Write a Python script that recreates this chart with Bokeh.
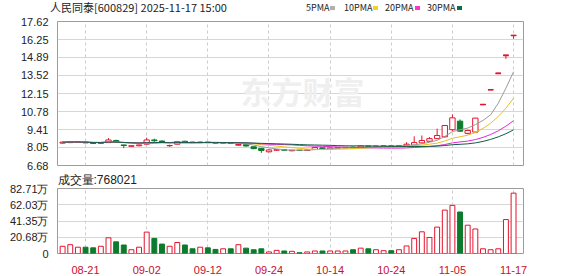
import pandas as pd
from bokeh.plotting import figure
from bokeh.layouts import column
from bokeh.models import Range1d, FixedTicker, Label, ColumnDataSource, CustomJSTickFormatter, Div
from bokeh.embed import file_html
from bokeh.resources import INLINE

# ---------------- data ----------------
dates = ["08-18", "08-19", "08-20", "08-21", "08-22", "08-25", "08-26", "08-27", "08-28", "08-29",
         "09-01", "09-02", "09-03", "09-04", "09-05", "09-08", "09-09", "09-10", "09-11", "09-12",
         "09-15", "09-16", "09-17", "09-18", "09-19", "09-22", "09-23", "09-24", "09-25", "09-26",
         "09-29", "09-30", "10-09", "10-10", "10-13", "10-14", "10-15", "10-16", "10-17", "10-20",
         "10-21", "10-22", "10-23", "10-24", "10-27", "10-28", "10-29", "10-30", "10-31", "11-03",
         "11-04", "11-05", "11-06", "11-07", "11-10", "11-11", "11-12", "11-13", "11-14", "11-17"]
opens = [8.38, 8.42, 8.44, 8.47, 8.40, 8.36, 8.42, 8.58, 8.24, 8.14,
         8.18, 8.30, 8.62, 8.54, 8.18, 8.30, 8.52, 8.46, 8.42, 8.46,
         8.42, 8.38, 8.42, 8.22, 8.26, 8.10, 7.98, 7.72, 7.84, 7.88,
         7.80, 7.84, 7.82, 7.90, 8.02, 7.92, 8.00, 8.02, 8.08, 8.04,
         8.16, 8.12, 8.14, 8.18, 8.14, 8.20, 8.22, 8.40, 8.52, 8.72,
         8.86, 9.40, 10.05, 9.12, 9.22, 11.31, 12.44, 13.68, 15.05, 16.56]
highs = [8.50, 8.52, 8.50, 8.48, 8.42, 8.45, 8.76, 8.64, 8.26, 8.20,
         8.26, 8.80, 8.72, 8.58, 8.26, 8.55, 8.56, 8.48, 8.50, 8.48,
         8.44, 8.44, 8.44, 8.30, 8.28, 8.12, 8.00, 7.92, 7.90, 7.90,
         7.86, 7.86, 7.88, 8.08, 8.04, 8.04, 8.06, 8.08, 8.10, 8.20,
         8.18, 8.20, 8.20, 8.20, 8.22, 8.45, 8.90, 8.96, 8.84, 9.48,
         9.75, 10.56, 10.18, 9.40, 10.30, 11.31, 12.44, 13.68, 15.05, 16.56]
lows = [8.35, 8.38, 8.40, 8.38, 8.33, 8.34, 8.40, 8.46, 8.00, 8.10,
        8.14, 8.28, 8.48, 8.44, 8.10, 8.28, 8.44, 8.40, 8.40, 8.38,
        8.36, 8.36, 8.34, 8.20, 8.12, 7.92, 7.64, 7.68, 7.80, 7.82,
        7.76, 7.80, 7.80, 7.88, 7.94, 7.90, 7.98, 8.00, 8.00, 8.02,
        8.08, 8.10, 8.12, 8.12, 8.12, 8.16, 8.18, 8.36, 8.48, 8.70,
        8.80, 9.30, 9.24, 9.05, 9.18, 11.31, 12.44, 13.68, 14.78, 16.31]
closes = [8.45, 8.48, 8.47, 8.40, 8.36, 8.42, 8.62, 8.48, 8.20, 8.18,
          8.24, 8.62, 8.56, 8.48, 8.20, 8.50, 8.46, 8.42, 8.46, 8.42,
          8.38, 8.42, 8.36, 8.28, 8.16, 7.96, 7.82, 7.86, 7.88, 7.84,
          7.84, 7.82, 7.86, 8.05, 7.96, 8.02, 8.04, 8.06, 8.02, 8.16,
          8.12, 8.16, 8.18, 8.14, 8.20, 8.30, 8.42, 8.58, 8.72, 8.96,
          9.72, 10.30, 9.29, 9.34, 10.28, 11.31, 12.44, 13.68, 15.05, 16.56]
volumes_wan = [9.2, 11.2, 8.0, 8.0, 7.2, 9.2, 20.0, 14.8, 10.8, 4.8,
               8.0, 27.2, 19.2, 12.0, 9.2, 14.0, 10.8, 6.0, 8.0, 7.2,
               5.2, 6.0, 6.0, 11.2, 6.8, 4.8, 6.0, 2.0, 4.0, 3.2,
               2.8, 1.0, 2.0, 3.2, 3.2, 3.2, 3.2, 3.2, 4.8, 6.8,
               6.0, 4.8, 3.6, 3.6, 4.8, 9.6, 19.2, 27.6, 20.4, 33.6,
               55.2, 61.2, 52.8, 36.0, 31.2, 6.0, 4.8, 6.0, 43.2, 76.8021]
price_ticks = [6.68, 8.05, 9.41, 10.78, 12.15, 13.52, 14.89, 16.25, 17.62]
vol_ticks = [0, 20.68, 41.35, 62.03, 82.71]
date_tick_idx = [3, 11, 19, 27, 35, 43, 51, 59]
ma_periods = [5, 10, 20, 30]
ma_colors = ["#9a9a9a", "#e8c21a", "#e12ad6", "#0f5e45"]
legend_sq_colors = ["#b0b0b0", "#f2d21a", "#ff33cc", "#0a6e4a"]
title_text = "人民同泰[600829] 2025-11-17 15:00"
vol_text = "成交量:768021"

# ---------------- styling ----------------
RED = "#e3142d"
GREEN = "#0c7b2c"
GRID = "#d6d6d6"
VGRID = "#cdcdcd"
FRAME = "#9c9c9c"
W = 578
LEFT, RIGHT = 57, 55
TICK_FONT = "Liberation Sans"

n = len(closes)
xs = list(range(n))
up = [c >= o for o, c in zip(opens, closes)]
colors = [RED if u else GREEN for u in up]
fills = ["#ffffff" if u else GREEN for u in up]
src = ColumnDataSource(dict(
    x=xs, o=opens, h=highs, l=lows, c=closes,
    top=[max(o, c) for o, c in zip(opens, closes)],
    bot=[min(o, c) for o, c in zip(opens, closes)],
    color=colors, fill=fills, vol=volumes_wan,
))
doji_idx = [i for i in xs if opens[i] == closes[i]]
BODY_W = 0.7
doji_src = ColumnDataSource(dict(
    x0=[i - BODY_W / 2 for i in doji_idx], x1=[i + BODY_W / 2 for i in doji_idx],
    y=[closes[i] for i in doji_idx], color=[colors[i] for i in doji_idx],
))
cs = pd.Series(closes)

x_lo, x_hi = -0.67, 60.3

# ---------------- header strip (HTML text) ----------------
HDR_H = 15
leg_x = [306, 344, 385, 427]
leg_sq_x = [330, 373, 415, 457]
spans = [f'<span style="position:absolute;left:50px;top:0;font-size:11px;">{title_text}</span>']
for per, lx, sx, sc in zip(ma_periods, leg_x, leg_sq_x, legend_sq_colors):
    spans.append(f'<span style="position:absolute;left:{lx}px;top:0;font-size:9px;">{per}PMA</span>')
    spans.append(f'<span style="position:absolute;left:{sx}px;top:6px;width:5px;height:4px;'
                 f'background:{sc};"></span>')
hdr_html = ('<div style="position:relative;width:%dpx;height:%dpx;line-height:%dpx;margin:0;padding:0;'
            'font-family:\'Noto Sans CJK SC\',sans-serif;color:#222222;white-space:nowrap;">%s</div>'
            % (W, HDR_H, HDR_H, "".join(spans)))
hdr = Div(text=hdr_html, width=W, height=HDR_H, margin=0)

# ---------------- price figure ----------------
p = figure(width=W, height=157, output_backend="svg", toolbar_location=None,
           x_range=Range1d(x_lo, x_hi), y_range=Range1d(price_ticks[0], price_ticks[-1]),
           x_axis_location=None, min_border_left=LEFT, min_border_right=RIGHT,
           min_border_top=6, min_border_bottom=7)
p.outline_line_color = FRAME
p.background_fill_color = "white"
p.border_fill_color = "white"
p.yaxis.ticker = FixedTicker(ticks=price_ticks)
p.yaxis.formatter = CustomJSTickFormatter(code="return tick.toFixed(2);")
p.ygrid.ticker = FixedTicker(ticks=price_ticks)
p.ygrid.grid_line_color = GRID
p.xgrid.ticker = FixedTicker(ticks=date_tick_idx)
p.xgrid.grid_line_color = VGRID
p.xgrid.grid_line_dash = "3 3"
for ax in p.yaxis:
    ax.axis_line_color = None
    ax.major_tick_line_color = None
    ax.minor_tick_line_color = None
    ax.major_label_standoff = 3
    ax.major_label_text_font = TICK_FONT
    ax.major_label_text_font_size = "11px"
    ax.major_label_text_color = "#222222"

# watermark
p.add_layout(Label(x=183, y=75, x_units="screen", y_units="screen", text="东方财富",
                   text_font="Noto Sans CJK SC", text_font_size="31px", text_font_style="bold",
                   text_color="#efefef", text_baseline="middle", level="underlay"))

p.segment(x0="x", y0="l", x1="x", y1="h", color="color", line_width=1, source=src)
p.vbar(x="x", width=BODY_W, top="top", bottom="bot", fill_color="fill", line_color="color",
       line_width=1, source=src)
p.segment(x0="x0", y0="y", x1="x1", y1="y", color="color", line_width=1.6, source=doji_src)

for per, col in zip(ma_periods, ma_colors):
    ma = cs.rolling(per, min_periods=1).mean().tolist()
    p.line(xs, ma, line_color=col, line_width=1)

# ---------------- volume figure ----------------
v = figure(width=W, height=104, output_backend="svg", toolbar_location=None,
           x_range=p.x_range, y_range=Range1d(0, vol_ticks[-1]),
           min_border_left=LEFT, min_border_right=RIGHT, min_border_top=0, min_border_bottom=21)
v.title.text = vol_text
v.title.align = "left"
v.title.standoff = 0
v.title.vertical_align = "top"
v.title.text_font = "Liberation Sans"
v.title.text_font_size = "12px"
v.title.text_font_style = "normal"
v.title.text_color = "#222222"
v.outline_line_color = FRAME
v.background_fill_color = "white"
v.border_fill_color = "white"
v.yaxis.ticker = FixedTicker(ticks=vol_ticks)
v.yaxis.formatter = CustomJSTickFormatter(code="return tick == 0 ? '0' : tick.toFixed(2) + '万';")
v.ygrid.ticker = FixedTicker(ticks=vol_ticks)
v.ygrid.grid_line_color = GRID
v.xaxis.ticker = FixedTicker(ticks=date_tick_idx)
v.xaxis.major_label_overrides = {i: dates[i] for i in date_tick_idx}
v.xgrid.ticker = FixedTicker(ticks=date_tick_idx)
v.xgrid.grid_line_color = VGRID
v.xgrid.grid_line_dash = "3 3"
for ax in list(v.yaxis) + list(v.xaxis):
    ax.axis_line_color = None
    ax.major_tick_line_color = None
    ax.minor_tick_line_color = None
    ax.major_label_text_font = TICK_FONT
    ax.major_label_text_font_size = "11px"
    ax.major_label_text_color = "#222222"
for ax in v.yaxis:
    ax.major_label_standoff = 3
for ax in v.xaxis:
    ax.major_label_standoff = 6
    ax.major_label_text_color = "#c8102e"

v.vbar(x="x", width=0.64, top="vol", bottom=0, fill_color="fill", line_color="color",
       line_width=1, source=src)

layout = column(hdr, p, v, spacing=0)
open("out.html", "w").write(file_html(layout, INLINE))
